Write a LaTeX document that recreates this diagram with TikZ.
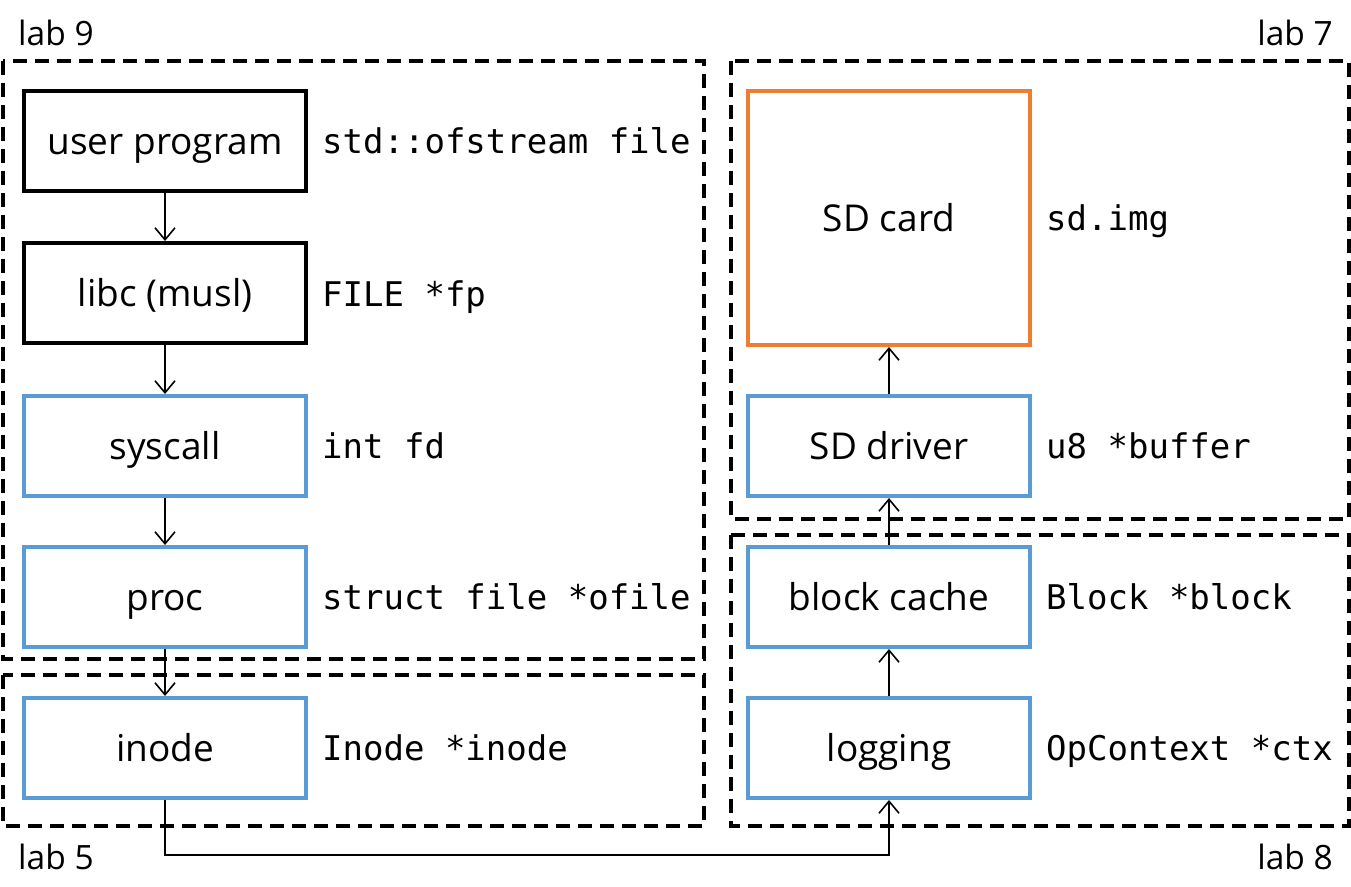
\documentclass[tikz,border=0pt]{standalone}
\usepackage{fontspec}
\setmainfont{Open Sans}
\setmonofont{DejaVu Sans Mono}
\usetikzlibrary{arrows.meta}
\definecolor{boxblue}{HTML}{5B9BD5}
\definecolor{boxorange}{HTML}{ED7D31}
\tikzset{
  x=1pt, y=-1pt,
  box/.style={draw, line width=4pt, minimum width=282pt, minimum height=100pt, inner sep=0pt, text height=27pt, text depth=0pt, font=\fontsize{37}{44}\selectfont},
  bluebox/.style={box, draw=boxblue},
  blackbox/.style={box, draw=black},
  orangebox/.style={box, draw=boxorange},
  code/.style={anchor=base west, inner sep=0pt, font=\ttfamily\fontsize{34}{40}\selectfont},
  labtext/.style={inner sep=0pt, font=\fontsize{33.5}{40}\selectfont},
  region/.style={draw, line width=4pt, dash pattern=on 14pt off 8pt},
  conn/.style={line width=1.6pt, -{Straight Barb[length=12pt,width=20pt,line width=1.6pt]}},
}
\begin{document}
\begin{tikzpicture}
\useasboundingbox (0,0) rectangle (1351,886);
% regions
\draw[region] (3,61) rectangle (704,659);
\draw[region] (3,675) rectangle (704,826);
\draw[region] (731,61) rectangle (1349,519);
\draw[region] (731,535) rectangle (1349,826);
% region labels
\node[labtext, anchor=base west] (l9) at (18,45) {lab 9};
\node[labtext, anchor=base east] (l7) at (1333,45) {lab 7};
\node[labtext, anchor=base west] (l5) at (18,869) {lab 5};
\node[labtext, anchor=base east] (l8) at (1333,869) {lab 8};
% left column
\node[blackbox] (user) at (165,141) {user program};
\node[blackbox] (libc) at (165,293) {libc (musl)};
\node[bluebox] (sys) at (165,446) {syscall};
\node[bluebox] (proc) at (165,597) {proc};
\node[bluebox] (inode) at (165,748) {inode};
% right column
\node[orangebox, minimum height=254pt] (sd) at (889,218) {SD card};
\node[bluebox] (drv) at (889,446) {SD driver};
\node[bluebox] (cache) at (889,597) {block cache};
\node[bluebox] (log) at (889,748) {logging};
% code labels
\node[code] (c1) at (322,153) {std::ofstream file};
\node[code] (c2) at (322,306) {FILE *fp};
\node[code] (c3) at (322,458) {int fd};
\node[code] (c4) at (322,609) {struct file *ofile};
\node[code] (c5) at (322,760) {Inode *inode};
\node[code] (c6) at (1046,230) {sd.img};
\node[code] (c7) at (1046,458) {u8 *buffer};
\node[code] (c8) at (1046,609) {Block *block};
\node[code] (c9) at (1046,760) {OpContext *ctx};
% connectors
\draw[conn] (user) -- (libc);
\draw[conn] (libc) -- (sys);
\draw[conn] (sys) -- (proc);
\draw[conn] (proc) -- (inode);
\coordinate (turn) at (165,855);
\draw[conn] (inode.south) -- (turn) -| (log.south);
\draw[conn] (log) -- (cache);
\draw[conn] (cache) -- (drv);
\draw[conn] (drv) -- (sd);
\end{tikzpicture}
\end{document}
